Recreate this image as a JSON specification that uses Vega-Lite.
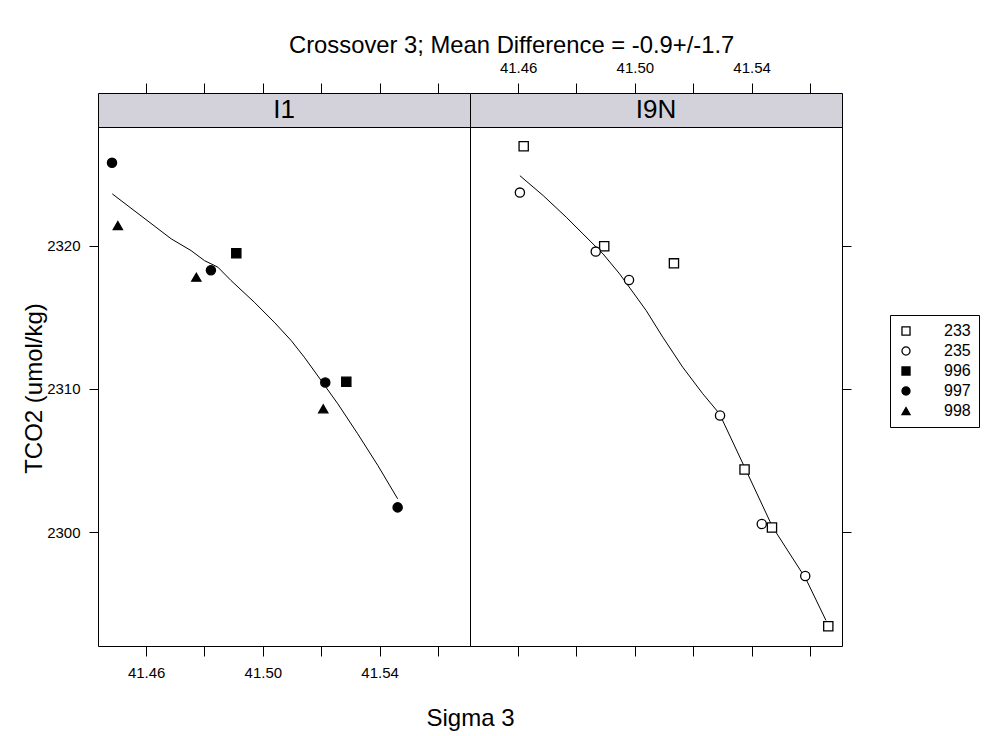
{
  "$schema": "https://vega.github.io/schema/vega-lite/v6.json",
  "background": "white",
  "padding": {"left": 21, "top": 33, "right": 0, "bottom": 0},
  "title": {"text": "Crossover 3; Mean Difference = -0.9+/-1.7", "anchor": "start", "frame": "group", "dx": 191, "fontSize": 23.8, "font": "Liberation Sans", "fontWeight": "normal", "color": "black", "offset": 2},
  "datasets": {
    "points": [
      {"panel": "I1", "cruise": "997", "sigma": 41.4483, "tco2": 2325.79},
      {"panel": "I1", "cruise": "997", "sigma": 41.4822, "tco2": 2318.28},
      {"panel": "I1", "cruise": "997", "sigma": 41.5214, "tco2": 2310.44},
      {"panel": "I1", "cruise": "997", "sigma": 41.5462, "tco2": 2301.72},
      {"panel": "I1", "cruise": "998", "sigma": 41.4503, "tco2": 2321.4},
      {"panel": "I1", "cruise": "998", "sigma": 41.4772, "tco2": 2317.79},
      {"panel": "I1", "cruise": "998", "sigma": 41.5207, "tco2": 2308.6},
      {"panel": "I1", "cruise": "996", "sigma": 41.4909, "tco2": 2319.46},
      {"panel": "I1", "cruise": "996", "sigma": 41.5286, "tco2": 2310.49},
      {"panel": "I9N", "cruise": "233", "sigma": 41.4619, "tco2": 2326.93},
      {"panel": "I9N", "cruise": "233", "sigma": 41.4895, "tco2": 2319.95},
      {"panel": "I9N", "cruise": "233", "sigma": 41.5134, "tco2": 2318.76},
      {"panel": "I9N", "cruise": "233", "sigma": 41.5376, "tco2": 2304.37},
      {"panel": "I9N", "cruise": "233", "sigma": 41.547, "tco2": 2300.31},
      {"panel": "I9N", "cruise": "233", "sigma": 41.5663, "tco2": 2293.42},
      {"panel": "I9N", "cruise": "235", "sigma": 41.4606, "tco2": 2323.7},
      {"panel": "I9N", "cruise": "235", "sigma": 41.4866, "tco2": 2319.58},
      {"panel": "I9N", "cruise": "235", "sigma": 41.498, "tco2": 2317.6},
      {"panel": "I9N", "cruise": "235", "sigma": 41.5292, "tco2": 2308.14},
      {"panel": "I9N", "cruise": "235", "sigma": 41.5435, "tco2": 2300.56},
      {"panel": "I9N", "cruise": "235", "sigma": 41.5584, "tco2": 2296.93}
    ],
    "fit": [
      {"panel": "I1", "sigma": 41.4484, "tco2": 2323.61},
      {"panel": "I1", "sigma": 41.4686, "tco2": 2320.47},
      {"panel": "I1", "sigma": 41.4754, "tco2": 2319.65},
      {"panel": "I1", "sigma": 41.48, "tco2": 2318.95},
      {"panel": "I1", "sigma": 41.4846, "tco2": 2318.49},
      {"panel": "I1", "sigma": 41.4891, "tco2": 2317.56},
      {"panel": "I1", "sigma": 41.4971, "tco2": 2316.04},
      {"panel": "I1", "sigma": 41.5039, "tco2": 2314.65},
      {"panel": "I1", "sigma": 41.5097, "tco2": 2313.37},
      {"panel": "I1", "sigma": 41.5142, "tco2": 2312.21},
      {"panel": "I1", "sigma": 41.5199, "tco2": 2310.6},
      {"panel": "I1", "sigma": 41.5257, "tco2": 2308.95},
      {"panel": "I1", "sigma": 41.5325, "tco2": 2306.86},
      {"panel": "I1", "sigma": 41.5394, "tco2": 2304.65},
      {"panel": "I1", "sigma": 41.5462, "tco2": 2302.32},
      {"panel": "I9N", "sigma": 41.4606, "tco2": 2324.88},
      {"panel": "I9N", "sigma": 41.4686, "tco2": 2323.49},
      {"panel": "I9N", "sigma": 41.4765, "tco2": 2321.98},
      {"panel": "I9N", "sigma": 41.4822, "tco2": 2320.82},
      {"panel": "I9N", "sigma": 41.4891, "tco2": 2319.42},
      {"panel": "I9N", "sigma": 41.4948, "tco2": 2318.02},
      {"panel": "I9N", "sigma": 41.5039, "tco2": 2315.46},
      {"panel": "I9N", "sigma": 41.5096, "tco2": 2313.6},
      {"panel": "I9N", "sigma": 41.5164, "tco2": 2311.51},
      {"panel": "I9N", "sigma": 41.5233, "tco2": 2309.65},
      {"panel": "I9N", "sigma": 41.529, "tco2": 2308.26},
      {"panel": "I9N", "sigma": 41.5376, "tco2": 2304.53},
      {"panel": "I9N", "sigma": 41.5472, "tco2": 2300.35},
      {"panel": "I9N", "sigma": 41.5586, "tco2": 2296.74},
      {"panel": "I9N", "sigma": 41.5655, "tco2": 2293.83}
    ],
    "strips": [{"panel": "I1"}, {"panel": "I9N"}]
  },
  "columns": 2,
  "spacing": 0,
  "bounds": "flush",
  "resolve": {"scale": {"x": "independent", "y": "independent", "shape": "shared", "fill": "shared", "stroke": "shared"}, "legend": {"shape": "shared", "fill": "shared", "stroke": "shared"}},
  "concat": [
    {
      "width": 372, "height": 34,
      "view": {"fill": "#d3d2da", "stroke": "black", "strokeWidth": 1},
      "data": {"name": "strips"},
      "transform": [{"filter": "datum.panel == 'I1'"}],
      "mark": {"type": "text", "fontSize": 26, "font": "Liberation Sans", "color": "black"},
      "encoding": {"text": {"field": "panel", "type": "nominal"}}
    },
    {
      "width": 372, "height": 34,
      "view": {"fill": "#d3d2da", "stroke": "black", "strokeWidth": 1},
      "data": {"name": "strips"},
      "transform": [{"filter": "datum.panel == 'I9N'"}],
      "mark": {"type": "text", "fontSize": 26, "font": "Liberation Sans", "color": "black"},
      "encoding": {"text": {"field": "panel", "type": "nominal"}}
    },
    {
      "width": 372, "height": 519,
      "view": {"stroke": "black", "strokeWidth": 1},
      "resolve": {"axis": {"x": "independent"}},
      "layer": [
        {
          "data": {"name": "fit"},
          "transform": [{"filter": "datum.panel == 'I1'"}],
          "mark": {"type": "line", "color": "black", "strokeWidth": 1},
          "encoding": {
            "x": {"field": "sigma", "type": "quantitative", "scale": {"domain": [41.4435, 41.571], "nice": false, "zero": false},
              "axis": {"orient": "top", "offset": 34, "values": [41.46, 41.48, 41.5, 41.52, 41.54, 41.56], "labels": false, "domain": false, "ticks": true, "tickSize": 10, "tickColor": "black", "grid": false, "title": null}},
            "y": {"field": "tco2", "type": "quantitative", "scale": {"domain": [2292.04, 2328.28], "nice": false, "zero": false},
              "axis": {"orient": "left", "values": [2300, 2310, 2320], "format": "d", "domain": false, "grid": false, "tickSize": 9, "tickColor": "black", "labelPadding": 9, "labelFont": "Liberation Sans", "labelFontSize": 15, "labelColor": "black",
                "title": "TCO2 (umol/kg)", "titleFont": "Liberation Sans", "titleFontSize": 24, "titleFontWeight": "normal", "titleColor": "black", "titleAngle": -90, "titleBaseline": "middle", "titleAlign": "center", "titleX": -64, "titleY": 261}}
          }
        },
        {
          "data": {"name": "points"},
          "transform": [{"filter": "datum.panel == 'I1'"}],
          "mark": {"type": "point", "strokeWidth": 1.3, "opacity": 1, "size": 85},
          "encoding": {
            "x": {"field": "sigma", "type": "quantitative", "scale": {"domain": [41.4435, 41.571], "nice": false, "zero": false},
              "axis": {"orient": "bottom", "values": [41.46, 41.48, 41.5, 41.52, 41.54, 41.56], "domain": false, "grid": false, "tickSize": 10, "tickColor": "black", "labelPadding": 9, "labelFont": "Liberation Sans", "labelFontSize": 15, "labelColor": "black",
                "labelExpr": "indexof(['41.46','41.50','41.54'], format(datum.value, '.2f')) >= 0 ? format(datum.value, '.2f') : ''",
                "title": "Sigma 3", "titleFont": "Liberation Sans", "titleFontSize": 24, "titleFontWeight": "normal", "titleColor": "black", "titleAlign": "center", "titleBaseline": "middle", "titleX": 372, "titleY": 72}},
            "y": {"field": "tco2", "type": "quantitative", "scale": {"domain": [2292.04, 2328.28], "nice": false, "zero": false}},
            "shape": {"field": "cruise", "type": "nominal", "scale": {"domain": ["233", "235", "996", "997", "998"], "range": ["square", "circle", "square", "circle", "triangle-up"]},
              "legend": {"orient": "none", "legendX": 792, "legendY": 222, "title": null, "strokeColor": "black", "padding": 8, "labelFont": "Liberation Sans", "labelFontSize": 16, "labelColor": "black", "labelOffset": 30, "symbolSize": 65, "symbolStrokeWidth": 1.3, "rowPadding": 4}},
            "fill": {"field": "cruise", "type": "nominal", "scale": {"domain": ["233", "235", "996", "997", "998"], "range": ["white", "white", "black", "black", "black"]},
              "legend": {"orient": "none", "legendX": 792, "legendY": 222, "title": null, "strokeColor": "black", "padding": 8, "labelFont": "Liberation Sans", "labelFontSize": 16, "labelColor": "black", "labelOffset": 30, "symbolSize": 65, "symbolStrokeWidth": 1.3, "rowPadding": 4}},
            "stroke": {"field": "cruise", "type": "nominal", "scale": {"domain": ["233", "235", "996", "997", "998"], "range": ["black", "black", "black", "black", "black"]},
              "legend": {"orient": "none", "legendX": 792, "legendY": 222, "title": null, "strokeColor": "black", "padding": 8, "labelFont": "Liberation Sans", "labelFontSize": 16, "labelColor": "black", "labelOffset": 30, "symbolSize": 65, "symbolStrokeWidth": 1.3, "rowPadding": 4}}
          }
        }
      ]
    },
    {
      "width": 372, "height": 519,
      "view": {"stroke": "black", "strokeWidth": 1},
      "resolve": {"axis": {"x": "independent"}},
      "layer": [
        {
          "data": {"name": "fit"},
          "transform": [{"filter": "datum.panel == 'I9N'"}],
          "mark": {"type": "line", "color": "black", "strokeWidth": 1},
          "encoding": {
            "x": {"field": "sigma", "type": "quantitative", "scale": {"domain": [41.4435, 41.571], "nice": false, "zero": false},
              "axis": {"orient": "top", "offset": 34, "values": [41.46, 41.48, 41.5, 41.52, 41.54, 41.56], "domain": false, "grid": false, "tickSize": 10, "tickColor": "black", "labelPadding": 8, "labelFont": "Liberation Sans", "labelFontSize": 15, "labelColor": "black",
                "labelExpr": "indexof(['41.46','41.50','41.54'], format(datum.value, '.2f')) >= 0 ? format(datum.value, '.2f') : ''", "title": null}},
            "y": {"field": "tco2", "type": "quantitative", "scale": {"domain": [2292.04, 2328.28], "nice": false, "zero": false},
              "axis": {"orient": "right", "values": [2300, 2310, 2320], "domain": false, "grid": false, "labels": false, "tickSize": 9, "tickColor": "black", "title": null}}
          }
        },
        {
          "data": {"name": "points"},
          "transform": [{"filter": "datum.panel == 'I9N'"}],
          "mark": {"type": "point", "strokeWidth": 1.3, "opacity": 1, "size": 85},
          "encoding": {
            "x": {"field": "sigma", "type": "quantitative", "scale": {"domain": [41.4435, 41.571], "nice": false, "zero": false},
              "axis": {"orient": "bottom", "values": [41.46, 41.48, 41.5, 41.52, 41.54, 41.56], "labels": false, "domain": false, "grid": false, "tickSize": 10, "tickColor": "black", "title": null}},
            "y": {"field": "tco2", "type": "quantitative", "scale": {"domain": [2292.04, 2328.28], "nice": false, "zero": false}},
            "shape": {"field": "cruise", "type": "nominal", "scale": {"domain": ["233", "235", "996", "997", "998"], "range": ["square", "circle", "square", "circle", "triangle-up"]},
              "legend": {"orient": "none", "legendX": 792, "legendY": 222, "title": null, "strokeColor": "black", "padding": 8, "labelFont": "Liberation Sans", "labelFontSize": 16, "labelColor": "black", "labelOffset": 30, "symbolSize": 65, "symbolStrokeWidth": 1.3, "rowPadding": 4}},
            "fill": {"field": "cruise", "type": "nominal", "scale": {"domain": ["233", "235", "996", "997", "998"], "range": ["white", "white", "black", "black", "black"]},
              "legend": {"orient": "none", "legendX": 792, "legendY": 222, "title": null, "strokeColor": "black", "padding": 8, "labelFont": "Liberation Sans", "labelFontSize": 16, "labelColor": "black", "labelOffset": 30, "symbolSize": 65, "symbolStrokeWidth": 1.3, "rowPadding": 4}},
            "stroke": {"field": "cruise", "type": "nominal", "scale": {"domain": ["233", "235", "996", "997", "998"], "range": ["black", "black", "black", "black", "black"]},
              "legend": {"orient": "none", "legendX": 792, "legendY": 222, "title": null, "strokeColor": "black", "padding": 8, "labelFont": "Liberation Sans", "labelFontSize": 16, "labelColor": "black", "labelOffset": 30, "symbolSize": 65, "symbolStrokeWidth": 1.3, "rowPadding": 4}}
          }
        }
      ]
    }
  ]
}
